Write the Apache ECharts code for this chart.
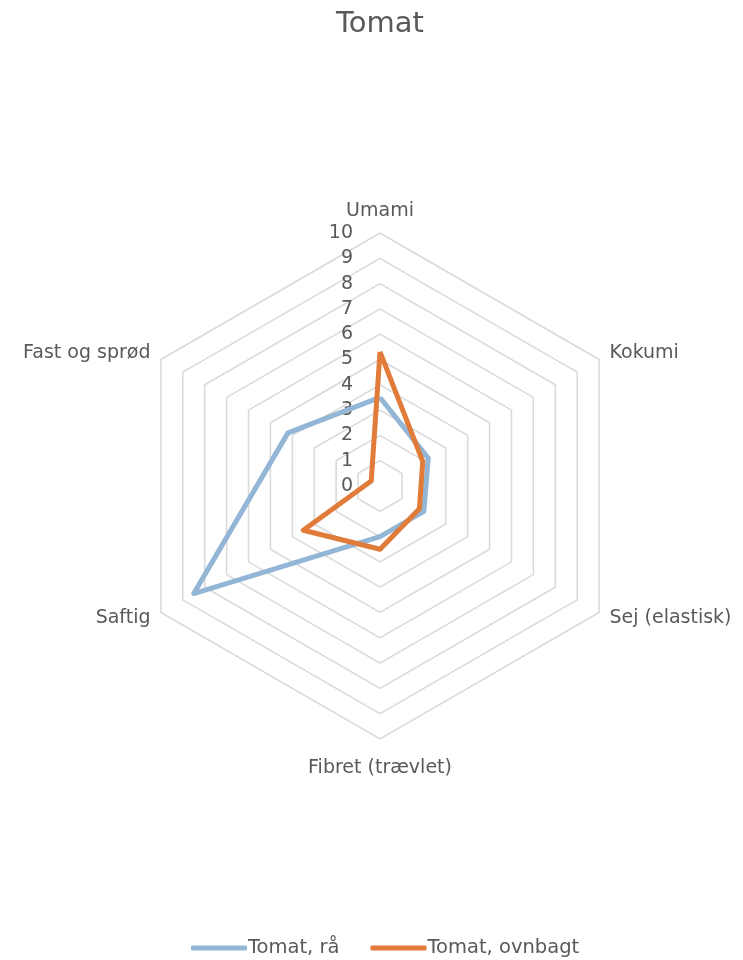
<!DOCTYPE html>
<html>
<head>
<meta charset="utf-8">
<script src="https://cdn.jsdelivr.net/npm/echarts@6/dist/echarts.min.js"></script>
<style>
html,body{margin:0;padding:0;background:#fff;}
#chart{width:743px;height:960px;}
</style>
</head>
<body>
<div id="chart"></div>
<script>
// Categories in clockwise order starting from the top
var categories = ['Umami', 'Kokumi', 'Sej (elastisk)', 'Fibret (trævlet)', 'Saftig', 'Fast og sprød'];
var seriesNames = ['Tomat, rå', 'Tomat, ovnbagt'];
var rawValues = [3.5, 2.2, 2.0, 2.0, 8.5, 4.2];
var bakedValues = [5.3, 1.95, 1.8, 2.5, 3.5, 0.4];
var tickLabels = ['0','1','2','3','4','5','6','7','8','9','10'];
var axisMax = 10;

// ECharts radar goes counter-clockwise; reorder so the picture is clockwise
function ccw(arr) {
  var out = [arr[0]];
  for (var i = arr.length - 1; i > 0; i--) out.push(arr[i]);
  return out;
}

var font = 'DejaVu Sans';
var catCcw = ccw(categories);
var indicators = catCcw.map(function (c, i) {
  return {
    name: c,
    min: 0,
    max: axisMax,
    axisLabel: { show: i === 0 }
  };
});

var chart = echarts.init(document.getElementById('chart'), null, { renderer: 'canvas' });
chart.setOption({
  animation: false,
  backgroundColor: '#ffffff',
  title: {
    text: 'Tomat',
    left: 331,
    top: 5,
    textStyle: { fontFamily: font, fontSize: 29, fontWeight: 'normal', color: '#595959' }
  },
  legend: {
    top: 933,
    left: 186,
    data: seriesNames,
    icon: 'roundRect',
    itemWidth: 56,
    itemHeight: 5,
    itemGap: 31,
    textStyle: { fontFamily: font, fontSize: 19.5, color: '#595959', padding: [0, 0, 0, -4] }
  },
  radar: {
    center: [380, 486],
    radius: 253,
    startAngle: 90,
    shape: 'polygon',
    splitNumber: 10,
    indicator: indicators,
    axisName: { fontFamily: font, fontSize: 19, color: '#595959', padding: [8, 0, 0, 0] },
    nameGap: 12,
    axisLine: { show: false },
    axisTick: { show: false },
    splitArea: { show: false },
    splitLine: { lineStyle: { color: '#d9d9d9', width: 1.5 } },
    axisLabel: {
      show: true,
      fontFamily: font,
      fontSize: 19,
      color: '#595959',
      margin: 27,
      formatter: function (v) { return tickLabels[Math.round(v)] !== undefined ? tickLabels[Math.round(v)] : ''; }
    }
  },
  series: [{
    type: 'radar',
    symbol: 'none',
    data: [
      { name: seriesNames[0], value: ccw(rawValues),
        lineStyle: { color: '#93b6d6', width: 5 }, itemStyle: { color: '#93b6d6' } },
      { name: seriesNames[1], value: ccw(bakedValues),
        lineStyle: { color: '#e07b39', width: 5 }, itemStyle: { color: '#e07b39' } }
    ]
  }]
});
</script>
</body>
</html>
